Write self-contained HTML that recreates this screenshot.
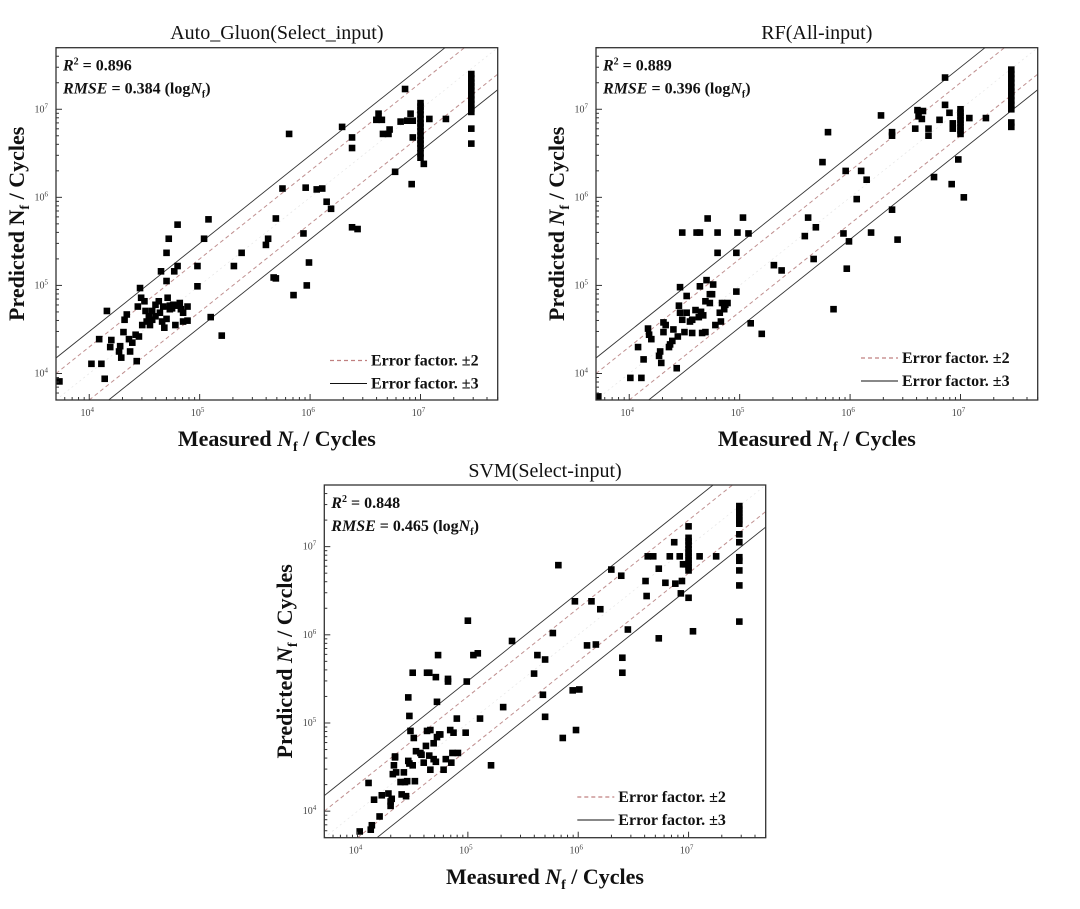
<!DOCTYPE html>
<html><head><meta charset="utf-8"><style>
html,body{margin:0;padding:0;background:#fff;width:1080px;height:909px;overflow:hidden;}
svg{display:block;}
svg text{font-family:"Liberation Serif",serif;}
</style></head><body>
<svg id="chart" width="1080" height="909" viewBox="0 0 1080 909" xmlns="http://www.w3.org/2000/svg">
<rect width="1080" height="909" fill="#fff"/>
</svg>
<script>
// Data: log10(measured Nf), log10(predicted Nf)
const autoGluonPoints=[[3.73,3.91],[4.02,4.11],[4.11,4.11],[4.14,3.94],[4.16,4.71],[4.20,4.38],[4.19,4.30],[4.09,4.39],[4.27,4.25],[4.29,4.18],[4.28,4.31],[4.31,4.47],[4.32,4.61],[4.34,4.67],[4.37,4.25],[4.36,4.39],[4.39,4.35],[4.42,4.44],[4.43,4.14],[4.45,4.42],[4.46,4.97],[4.47,4.86],[4.48,4.55],[4.44,4.76],[4.51,4.71],[4.50,4.82],[4.52,4.59],[4.55,4.55],[4.57,4.71],[4.60,4.78],[4.60,4.65],[4.63,4.82],[4.64,4.69],[4.66,4.59],[4.67,4.76],[4.68,4.52],[4.70,4.62],[4.71,4.86],[4.73,4.73],[4.73,4.77],[4.75,4.74],[4.76,4.78],[4.78,4.55],[4.79,4.77],[4.82,4.80],[4.83,4.73],[4.85,4.59],[4.85,4.69],[4.89,4.60],[4.89,4.76],[4.54,4.65],[4.57,4.61],[4.70,5.05],[4.70,5.37],[4.72,5.53],[4.65,5.16],[4.80,5.69],[4.80,5.22],[4.77,5.16],[4.98,4.99],[4.98,5.22],[5.04,5.53],[5.08,5.75],[5.10,4.64],[5.20,4.43],[5.31,5.22],[5.38,5.37],[5.60,5.46],[5.62,5.53],[5.67,5.09],[5.69,5.08],[5.69,5.76],[5.75,6.10],[5.81,6.72],[5.85,4.89],[5.94,5.59],[5.96,6.11],[5.97,5.00],[5.99,5.26],[6.06,6.09],[6.11,6.10],[6.15,5.95],[6.19,5.87],[6.29,6.80],[6.38,6.68],[6.38,6.56],[6.38,5.66],[6.43,5.64],[6.60,6.88],[6.62,6.95],[6.65,6.88],[6.66,6.72],[6.71,6.72],[6.72,6.77],[6.77,6.29],[6.82,6.86],[6.86,7.23],[6.88,6.87],[6.91,6.95],[6.93,6.87],[6.93,6.68],[6.92,6.15],[7.0,6.45],[7.0,6.50],[7.0,6.56],[7.0,6.61],[7.0,6.65],[7.0,6.70],[7.0,6.75],[7.0,6.80],[7.0,6.84],[7.0,6.89],[7.0,6.94],[7.0,6.99],[7.0,7.03],[7.0,7.07],[7.03,6.38],[7.08,6.89],[7.23,6.89],[7.46,7.40],[7.46,7.35],[7.46,7.30],[7.46,7.26],[7.46,7.21],[7.46,7.16],[7.46,7.11],[7.46,7.06],[7.46,7.01],[7.46,6.97],[7.46,6.78],[7.46,6.61]];
const rfPoints=[[3.72,3.74],[4.01,3.95],[4.11,3.95],[4.08,4.30],[4.13,4.16],[4.17,4.51],[4.18,4.44],[4.20,4.39],[4.27,4.20],[4.28,4.25],[4.29,4.12],[4.31,4.58],[4.33,4.55],[4.31,4.47],[4.36,4.30],[4.37,4.33],[4.39,4.37],[4.40,4.50],[4.43,4.06],[4.44,4.42],[4.45,4.77],[4.46,4.98],[4.46,4.69],[4.48,4.61],[4.48,5.60],[4.50,4.47],[4.52,4.88],[4.52,4.69],[4.55,4.59],[4.57,4.46],[4.57,4.61],[4.60,4.72],[4.61,5.60],[4.63,4.64],[4.64,4.99],[4.64,5.60],[4.65,4.70],[4.66,4.46],[4.67,4.66],[4.69,4.82],[4.69,4.47],[4.70,5.06],[4.71,5.76],[4.73,4.90],[4.73,4.80],[4.75,4.90],[4.76,5.01],[4.78,4.55],[4.80,5.60],[4.80,5.37],[4.82,4.69],[4.83,4.59],[4.84,4.80],[4.86,4.73],[4.87,4.78],[4.89,4.80],[4.97,4.93],[4.97,5.37],[4.98,5.60],[5.03,5.77],[5.08,5.59],[5.10,4.57],[5.20,4.45],[5.31,5.23],[5.38,5.17],[5.59,5.56],[5.62,5.77],[5.67,5.30],[5.69,5.66],[5.75,6.40],[5.80,6.74],[5.85,4.73],[5.94,5.59],[5.96,6.30],[5.97,5.19],[5.99,5.50],[6.06,5.98],[6.10,6.30],[6.15,6.20],[6.19,5.60],[6.28,6.93],[6.38,6.74],[6.38,6.70],[6.38,5.86],[6.43,5.52],[6.59,6.78],[6.61,6.99],[6.62,6.92],[6.66,6.98],[6.65,6.89],[6.71,6.78],[6.71,6.70],[6.76,6.23],[6.81,6.88],[6.86,7.36],[6.86,7.05],[6.90,6.96],[6.92,6.15],[6.93,6.78],[6.93,6.84],[6.98,6.43],[7.0,6.72],[7.0,6.76],[7.0,6.80],[7.0,6.84],[7.0,6.88],[7.0,6.92],[7.0,6.96],[7.0,7.0],[7.03,6.00],[7.08,6.90],[7.23,6.90],[7.46,7.45],[7.46,7.40],[7.46,7.35],[7.46,7.30],[7.46,7.25],[7.46,7.20],[7.46,7.15],[7.46,7.10],[7.46,7.05],[7.46,7.0],[7.46,6.85],[7.46,6.80]];
const svmPoints=[[4.02,3.77],[4.12,3.79],[4.13,3.84],[4.10,4.32],[4.15,4.13],[4.20,3.94],[4.22,4.18],[4.28,4.20],[4.30,4.11],[4.30,4.06],[4.31,4.14],[4.32,4.42],[4.33,4.52],[4.34,4.61],[4.34,4.62],[4.35,4.44],[4.39,4.33],[4.40,4.19],[4.42,4.44],[4.43,4.33],[4.44,4.17],[4.45,4.34],[4.46,4.57],[4.47,4.54],[4.47,5.08],[4.46,5.29],[4.48,4.91],[4.50,5.57],[4.50,4.52],[4.51,4.83],[4.52,4.34],[4.53,4.68],[4.57,4.66],[4.58,4.64],[4.60,4.55],[4.62,4.74],[4.63,5.57],[4.63,4.91],[4.65,4.63],[4.65,5.57],[4.66,4.47],[4.66,4.92],[4.69,4.59],[4.69,4.77],[4.71,5.52],[4.71,4.56],[4.72,5.24],[4.72,4.84],[4.73,5.77],[4.74,4.87],[4.75,4.87],[4.78,4.47],[4.80,4.59],[4.82,5.50],[4.82,5.47],[4.84,4.92],[4.85,4.55],[4.86,4.66],[4.87,4.89],[4.90,5.05],[4.91,4.66],[4.98,4.89],[4.99,5.47],[5.00,6.16],[5.05,5.77],[5.09,5.79],[5.11,5.05],[5.21,4.52],[5.32,5.18],[5.40,5.93],[5.60,5.56],[5.63,5.77],[5.68,5.32],[5.70,5.72],[5.70,5.07],[5.77,6.02],[5.82,6.79],[5.86,4.83],[5.95,5.37],[5.97,6.38],[5.98,4.92],[6.01,5.38],[6.08,5.88],[6.12,6.38],[6.16,5.89],[6.20,6.29],[6.30,6.74],[6.39,6.67],[6.40,5.74],[6.40,5.57],[6.45,6.06],[6.61,6.61],[6.62,6.44],[6.63,6.89],[6.68,6.89],[6.73,5.96],[6.73,6.75],[6.79,6.59],[6.83,6.89],[6.87,7.05],[6.88,6.58],[6.92,6.89],[6.93,6.47],[6.94,6.61],[6.95,6.80],[6.97,6.80],[7.0,7.23],[7.0,6.73],[7.0,6.77],[7.0,6.81],[7.0,6.85],[7.0,6.89],[7.0,6.93],[7.0,6.97],[7.0,7.02],[7.0,7.06],[7.0,7.10],[7.0,6.42],[7.04,6.04],[7.10,6.89],[7.25,6.89],[7.46,7.46],[7.46,7.42],[7.46,7.38],[7.46,7.34],[7.46,7.30],[7.46,7.26],[7.46,7.14],[7.46,7.05],[7.46,6.88],[7.46,6.84],[7.46,6.73],[7.46,6.56],[7.46,6.15]];
const tickExponents=[4,5,6,7];
const statsAutoGluon=["0.896","0.384"];
const statsRF=["0.889","0.396"];
const statsSVM=["0.848","0.465"];

const NS="http://www.w3.org/2000/svg";
const svg=document.getElementById('chart');
const LMIN=3.699,LMAX=7.699;
function mk(tag,attrs,parent){const e=document.createElementNS(NS,tag);for(const k in attrs)e.setAttribute(k,attrs[k]);(parent||svg).appendChild(e);return e;}

function drawPanel(p){
  const g=mk('g',{});
  
  
  const L=p.left,R=p.right,T=p.top,B=p.bottom;
  const sx=v=>L+(v-LMIN)/(LMAX-LMIN)*(R-L);
  const sy=v=>B-(v-LMIN)/(LMAX-LMIN)*(B-T);
  const clipId='clip-'+p.name;
  const cp=mk('clipPath',{id:clipId},g);mk('rect',{x:L,y:T,width:R-L,height:B-T},cp);
  const t=mk('text',{x:(L+R)/2,y:p.titleY,'text-anchor':'middle','font-size':20,fill:'#111'},g);
  t.textContent=p.title;
  
  
  const lg=mk('g',{'clip-path':'url(#'+clipId+')'},g);
  const lines=[[0.477,'#333','none',0.9],[-0.477,'#333','none',0.9],[0.301,'#c09090','4,3',1],[-0.301,'#c09090','4,3',1],[0,'#e6e6e6','2,3',0.7]];
  lines.forEach(([off,c,da,w])=>{
    // endpoints restricted to the visible range
    const xa=Math.max(LMIN,LMIN-off), xb=Math.min(LMAX,LMAX-off);
    const ln=mk('line',{x1:sx(xa),y1:sy(xa+off),x2:sx(xb),y2:sy(xb+off),stroke:c,'stroke-width':w,'stroke-dasharray':da},lg);
    
    
  });
  const pg=mk('g',{'clip-path':'url(#'+clipId+')'},g);
  p.points.forEach(([x,y])=>{
    const r=mk('rect',{x:sx(x)-3.3,y:sy(y)-3.3,width:6.6,height:6.6,fill:'#000'},pg);
    
    
  });
  const fr=mk('rect',{x:L,y:T,width:R-L,height:B-T,fill:'none',stroke:'#333','stroke-width':1.3},g);
  
  
  for(let d=3;d<=7;d++){for(let m=1;m<10;m++){const v=d+Math.log10(m);if(v<LMIN-1e-6||v>LMAX+1e-6)continue;
    const len=m===1?6:3;
    mk('line',{x1:sx(v),y1:B,x2:sx(v),y2:B-len,stroke:'#333','stroke-width':1},g);
    mk('line',{x1:L,y1:sy(v),x2:L+len,y2:sy(v),stroke:'#333','stroke-width':1},g);}}
  tickExponents.forEach(e=>{
    const xt=mk('text',{x:sx(e)-2,y:B+16,'text-anchor':'middle','font-size':10,fill:'#444'},g);
    xt.innerHTML='10<tspan dy="-4" font-size="7">'+e+'</tspan>';
    
    
    const yt=mk('text',{x:L-8,y:sy(e)+3,'text-anchor':'end','font-size':10,fill:'#444'},g);
    yt.innerHTML='10<tspan dy="-4" font-size="7">'+e+'</tspan>';
    
    
  });
  const xl=mk('text',{x:(L+R)/2,y:p.xLabelY,'text-anchor':'middle','font-size':22,'font-weight':'bold',fill:'#111'},g);
  xl.innerHTML='Measured <tspan font-style="italic">N</tspan><tspan font-size="14" dy="5">f</tspan><tspan dy="-5"> / Cycles</tspan>';
  
  
  const yc=(T+B)/2;
  const yl=mk('text',{x:p.yLabelX,y:yc,'text-anchor':'middle','font-size':22,'font-weight':'bold',fill:'#111',transform:'rotate(-90 '+p.yLabelX+' '+yc+')'},g);
  yl.innerHTML='Predicted '+(p.italicY?'<tspan font-style="italic">N</tspan>':'N')+'<tspan font-size="14" dy="5">f</tspan><tspan dy="-5"> / Cycles</tspan>';
  
  
  const s1=mk('text',{x:L+7,y:T+23,'font-size':16,'font-weight':'bold',fill:'#111'},g);
  s1.innerHTML='<tspan font-style="italic">R</tspan><tspan font-size="10" dy="-6">2</tspan><tspan dy="6"> = '+p.stats[0]+'</tspan>';
  
  
  const s2=mk('text',{x:L+7,y:T+46,'font-size':16,'font-weight':'bold',fill:'#111'},g);
  s2.innerHTML='<tspan font-style="italic">RMSE</tspan> = '+p.stats[1]+' (log<tspan font-style="italic">N</tspan><tspan font-size="10" dy="4">f</tspan><tspan dy="-4">)</tspan>';
  
  
  const lx=L+p.legendDx, ly=p.legendY;
  const l1=mk('line',{x1:lx,y1:ly,x2:lx+37,y2:ly,stroke:'#c08080','stroke-width':1.2,'stroke-dasharray':'4,3'},g);
  
  
  const lt1=mk('text',{x:lx+41,y:ly+5,'font-size':16,'font-weight':'bold',fill:'#111'},g);
  lt1.textContent='Error factor. \u00b12';
  
  
  const l2=mk('line',{x1:lx,y1:ly+23,x2:lx+37,y2:ly+23,stroke:'#111','stroke-width':1.1},g);
  
  
  const lt2=mk('text',{x:lx+41,y:ly+28,'font-size':16,'font-weight':'bold',fill:'#111'},g);
  lt2.textContent='Error factor. \u00b13';
  
  
}

drawPanel({name:'autogluon-panel',title:'Auto_Gluon(Select_input)',left:56,right:497.7,top:47.7,bottom:400,titleY:39,xLabelY:446,yLabelX:24,italicY:false,stats:statsAutoGluon,points:autoGluonPoints,legendDx:274,legendY:360.5});
drawPanel({name:'rf-panel',title:'RF(All-input)',left:596,right:1037.7,top:47.7,bottom:400,titleY:39,xLabelY:446,yLabelX:564,italicY:true,stats:statsRF,points:rfPoints,legendDx:265,legendY:358});
drawPanel({name:'svm-panel',title:'SVM(Select-input)',left:324.3,right:765.7,top:485,bottom:837.7,titleY:477,xLabelY:884,yLabelX:292,italicY:true,stats:statsSVM,points:svmPoints,legendDx:253,legendY:797});
</script>
</body></html>
